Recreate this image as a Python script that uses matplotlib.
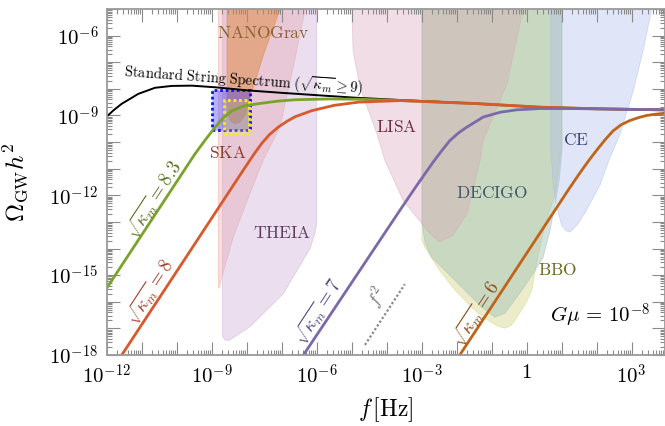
import numpy as np
import matplotlib
matplotlib.use("Agg")
import matplotlib.pyplot as plt
from matplotlib.ticker import FixedLocator, FuncFormatter, LogLocator, NullFormatter

plt.rcParams['mathtext.fontset'] = 'cm'
plt.rcParams['font.family'] = ['DejaVu Serif']

# ---------------- data (log10 f [Hz], log10 Omega_GW h^2) ----------------
black_logf = [-12.0, -11.8, -11.57, -11.3, -11.1, -10.62, -10.14, -9.57, -8.91, -7.95, -7.0, -5.86, -4.81, -3.6, -1.5, 0.4, 2.0, 4.0]
black_logo = [-9.04, -8.80, -8.56, -8.35, -8.19, -7.96, -7.89, -7.88, -7.94, -8.06, -8.15, -8.25, -8.34, -8.42, -8.55, -8.69, -8.75, -8.79]

green_logf = [-12.0, -9.48, -9.19, -8.95, -8.71, -8.43, -8.05, -7.57, -7.10, -6.62, -5.67, -4.8, -3.6, -1.5, 0.4, 2.0, 4.0]
green_logo = [-15.49, -10.45, -9.93, -9.52, -9.14, -8.83, -8.63, -8.54, -8.46, -8.41, -8.38, -8.39, -8.44, -8.55, -8.69, -8.75, -8.79]

red_logf = [-12.0, -8.05, -7.8, -7.57, -7.35, -7.10, -6.85, -6.62, -6.14, -5.5, -4.8, -3.6, -1.5, 0.4, 2.0, 4.0]
red_logo = [-18.86, -10.96, -10.47, -10.05, -9.72, -9.44, -9.22, -9.05, -8.82, -8.62, -8.50, -8.44, -8.55, -8.69, -8.75, -8.79]

purple_logf = [-6.5, -3.62, -3.14, -2.9, -2.67, -2.43, -2.19, -1.95, -1.71, -1.24, -0.76, -0.29, 0.38, 1.3, 2.3, 4.0]
purple_logo = [-18.24, -12.56, -11.63, -11.18, -10.75, -10.33, -9.94, -9.66, -9.44, -9.06, -8.88, -8.79, -8.74, -8.74, -8.76, -8.79]

brown_logf = [-2.0, -0.14, 0.67, 1.2, 1.5, 1.8, 2.0, 2.25, 2.47, 2.7, 2.95, 3.2, 3.43, 3.7, 4.0]
brown_logo = [-18.18, -14.46, -12.84, -11.78, -11.2, -10.65, -10.31, -9.9, -9.58, -9.35, -9.19, -9.08, -9.0, -8.95, -8.91]

f2_logf = [-4.62, -3.48]
f2_logo = [-17.62, -15.34]

# sensitivity regions
ska_logf = [-8.81, -8.81, -8.77, -8.71, -8.38, -7.91, -7.53, -7.05, -6.67, -6.33, -6.25]
ska_logo = [-4.5, -15.49, -15.42, -15.06, -13.56, -11.94, -10.69, -9.44, -7.19, -5.03, -4.5]

nano_logf = [-8.56, -8.56, -8.52, -8.46, -8.34, -8.2, -8.05, -7.91, -7.48, -7.05, -6.90]
nano_logo = [-4.5, -8.6, -9.0, -9.2, -9.32, -9.25, -9.0, -8.33, -6.56, -5.03, -4.5]

theia_logf = [-8.69, -8.69, -8.62, -8.5, -7.91, -6.95, -6.19, -6.05, -6.0, -6.0]
theia_logo = [-4.5, -17.3, -17.44, -17.45, -16.94, -15.69, -14.0, -13.43, -13.06, -4.5]

lisa_logf = [-5.0, -4.96, -4.76, -4.28, -4.05, -3.53, -2.77, -2.48, -2.10, -1.70, -1.33, -1.24, -0.56, -0.10, 0.05]
lisa_logo = [-4.5, -6.56, -7.95, -9.68, -10.69, -12.19, -13.43, -13.76, -13.5, -12.68, -10.69, -9.94, -7.80, -5.03, -4.5]

decigo_logf = [-2.99, -2.99, -2.9, -2.71, -2.05, -1.28, -0.91, -0.62, -0.13, 0.2, 0.47, 0.67, 0.83, 0.93, 1.01, 1.01]
decigo_logo = [-4.5, -13.05, -13.8, -14.33, -15.19, -16.20, -16.58, -16.43, -15.56, -14.9, -14.33, -13.31, -12.19, -11.44, -10.31, -4.5]

bbo_logf = [-2.99, -2.99, -2.91, -2.5, -2.05, -1.5, -1.11, -0.8, -0.62, -0.45, -0.33, 0.0, 0.15, 0.30, 0.47, 0.65, 0.81, 0.95, 1.01, 1.01]
bbo_logo = [-4.5, -13.69, -13.95, -14.8, -15.56, -16.3, -16.69, -16.93, -16.99, -16.9, -16.69, -16.0, -15.56, -14.44, -13.43, -12.6, -12.0, -10.69, -10.0, -4.5]

ce_logf = [0.69, 0.69, 0.76, 0.86, 1.00, 1.12, 1.24, 1.45, 1.65, 1.9, 2.1, 2.35, 2.67, 3.05, 3.33, 3.57, 3.65]
ce_logo = [-4.5, -10.31, -11.56, -12.44, -13.13, -13.33, -13.38, -13.1, -12.7, -12.1, -11.6, -10.69, -9.69, -8.06, -6.56, -5.03, -4.5]

# signal boxes: [f_min, f_max], [Omega_min, Omega_max]
blue_box_logf = [-9.0, -7.91]
blue_box_logo = [-9.54, -8.04]
yellow_box_logf = [-8.64, -7.94]
yellow_box_logo = [-9.68, -8.41]

# ---------------- figure ----------------
W, H = 665, 426
fig = plt.figure(figsize=(W / 100, H / 100), dpi=100)
ax = fig.add_axes([106.7 / W, 71 / H, (664.5 - 106.7) / W, 346 / H])
ax.set_xscale('log')
ax.set_yscale('log')
ax.set_xlim(1e-12, 10 ** 3.94)
ax.set_ylim(1e-18, 1e-5)


def P(a):
    return 10 ** np.asarray(a, dtype=float)


def region(lf, lo, color, alpha, z):
    ax.fill(P(lf), P(lo), facecolor=color, alpha=alpha, edgecolor='none', zorder=z)
    ax.plot(P(lf), P(lo), color=color, alpha=min(1, alpha + 0.1), lw=0.6, zorder=z)


region(bbo_logf, bbo_logo, '#d6d68c', 0.45, 1)
region(decigo_logf, decigo_logo, '#9fc2b6', 0.45, 1.1)
region(lisa_logf, lisa_logo, '#d9a3b8', 0.36, 1.2)
region(ce_logf, ce_logo, '#a9b9ec', 0.36, 1.3)
region(ska_logf, ska_logo, '#f2a096', 0.35, 1.4)
region(theia_logf, theia_logo, '#c9a5d0', 0.36, 1.5)
region(nano_logf, nano_logo, '#e0873e', 0.5, 1.6)

# signal boxes
bx = P(blue_box_logf)
by = P(blue_box_logo)
ax.fill([bx[0], bx[1], bx[1], bx[0]], [by[0], by[0], by[1], by[1]],
        facecolor=(0.1, 0.1, 1.0, 0.33), edgecolor='#1010ff', lw=2.0,
        linestyle=(0, (1, 1)), zorder=2)
yx = P(yellow_box_logf)
yy = P(yellow_box_logo)
ax.fill([yx[0], yx[1], yx[1], yx[0]], [yy[0], yy[0], yy[1], yy[1]],
        facecolor=(1.0, 0.95, 0.2, 0.25), edgecolor='#f7ef10', lw=2.0,
        linestyle=(0, (1, 1)), zorder=2.1)

# spectra
ax.plot(P(black_logf), P(black_logo), color='black', lw=1.4, zorder=3)
ax.plot(P(green_logf), P(green_logo), color='#7aa32b', lw=2.0, zorder=4)
ax.plot(P(red_logf), P(red_logo), color='#d85a2c', lw=2.0, zorder=4.1)
ax.plot(P(purple_logf), P(purple_logo), color='#7b69a8', lw=2.0, zorder=4.2)
ax.plot(P(brown_logf), P(brown_logo), color='#bf6419', lw=2.0, zorder=4.3)
ax.plot(P(f2_logf), P(f2_logo), color='#888888', lw=1.6, linestyle=(0, (1, 1)), zorder=4)

# slope angle of an f^2 line in display space
p1 = ax.transData.transform((1e-10, 1e-14))
p2 = ax.transData.transform((1e-9, 1e-12))
ang = np.degrees(np.arctan2(p2[1] - p1[1], p2[0] - p1[0]))

lab_kw = dict(ha='center', va='center', rotation=ang, rotation_mode='anchor', fontsize=13.5, zorder=6)
ax.text(10 ** -10.65, 10 ** -12.19, r'$\sqrt{\kappa_m}=8.3$', color='#5b7020', **lab_kw)
ax.text(10 ** -10.76, 10 ** -15.64, r'$\sqrt{\kappa_m}=8$', color='#a3402a', **lab_kw)
ax.text(10 ** -5.96, 10 ** -16.39, r'$\sqrt{\kappa_m}=7$', color='#4e4682', **lab_kw)
ax.text(10 ** -1.45, 10 ** -16.46, r'$\sqrt{\kappa_m}=6$', color='#8a4a14', **lab_kw)
ax.text(10 ** -4.28, 10 ** -15.83, r'$f^2$', color='#777777', **lab_kw)

ax.text(10 ** -8.10, 10 ** -7.71,
        r'$\mathrm{Standard\ String\ Spectrum}\ (\sqrt{\kappa_m}\geq 9)$',
        ha='center', va='center', rotation=-4, rotation_mode='anchor',
        fontsize=10.5, color='black', zorder=6)

reg_kw = dict(ha='center', va='center', fontsize=12.5, zorder=6)
ax.text(10 ** -7.53, 10 ** -5.93, r'$\mathrm{NANOGrav}$', color='#8a6234', **reg_kw)
ax.text(10 ** -8.53, 10 ** -10.43, r'$\mathrm{SKA}$', color='#8c3b2f', **reg_kw)
ax.text(10 ** -7.0, 10 ** -13.43, r'$\mathrm{THEIA}$', color='#5e3e60', **reg_kw)
ax.text(10 ** -3.71, 10 ** -9.45, r'$\mathrm{LISA}$', color='#6e2d40', **reg_kw)
ax.text(10 ** -1.0, 10 ** -11.95, r'$\mathrm{DECIGO}$', color='#3c5a68', **reg_kw)
ax.text(10 ** 0.89, 10 ** -14.81, r'$\mathrm{BBO}$', color='#6a6a1e', **reg_kw)
ax.text(10 ** 1.40, 10 ** -9.94, r'$\mathrm{CE}$', color='#3c4a7c', **reg_kw)

ax.text(10 ** 2.09, 10 ** -16.54, r'$G\mu\,=\,10^{-8}$', ha='center', va='center',
        fontsize=15, color='black', zorder=6)

# ticks
xdec = list(range(-12, 4))
ydec = list(range(-18, -4))
ax.xaxis.set_major_locator(FixedLocator([10.0 ** k for k in xdec]))
ax.yaxis.set_major_locator(FixedLocator([10.0 ** k for k in ydec]))
ax.xaxis.set_minor_locator(LogLocator(base=10, subs=np.arange(2, 10), numticks=100))
ax.yaxis.set_minor_locator(LogLocator(base=10, subs=np.arange(2, 10), numticks=100))
ax.xaxis.set_minor_formatter(NullFormatter())
ax.yaxis.set_minor_formatter(NullFormatter())


def fmt(v, pos):
    k = int(round(np.log10(v)))
    if k % 3 != 0:
        return ''
    if k == 0:
        return r'$1$'
    return r'$10^{%d}$' % k


ax.xaxis.set_major_formatter(FuncFormatter(fmt))
ax.yaxis.set_major_formatter(FuncFormatter(fmt))
ax.tick_params(which='both', direction='in', top=True, right=True, color='#8a8a8a', width=0.8)
ax.tick_params(which='major', length=9.5, labelsize=15, pad=6)
ax.tick_params(which='minor', length=3.5)
for s in ax.spines.values():
    s.set_color('#9a9a9a')
    s.set_linewidth(1.3)
    s.set_zorder(10)

ax.set_xlabel(r'$f\,[\mathrm{Hz}]$', fontsize=17)
ax.set_ylabel(r'$\Omega_{\mathrm{GW}}h^2$', fontsize=18)
ax.xaxis.set_label_coords(0.5, -0.115)
ax.yaxis.set_label_coords(-0.135, 0.5)

fig.savefig('out.png', dpi=100)
